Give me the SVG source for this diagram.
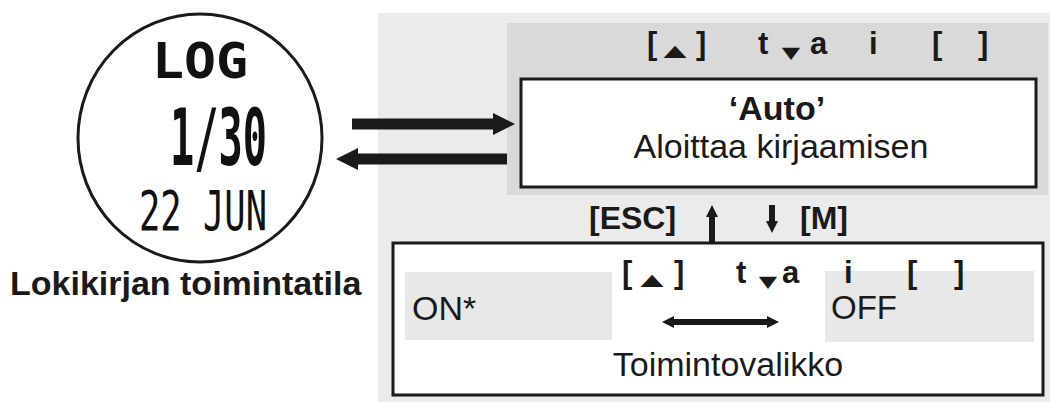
<svg xmlns="http://www.w3.org/2000/svg" width="1053" height="404" viewBox="0 0 1053 404">
<style>
.t{font-family:"Liberation Sans",Arial,sans-serif;fill:#1a1a1a}
.b{font-weight:bold}
.tri{font-family:"DejaVu Sans",sans-serif;fill:#1a1a1a}
.lcd{font-family:"DejaVu Sans Mono","Liberation Mono",monospace;fill:#111}
.box{fill:#fff;stroke:#1a1a1a;stroke-width:3}
.arr{stroke:#1a1a1a;fill:none}
</style>
<defs>
<marker id="ah" viewBox="0 0 10 10" refX="0" refY="5" markerUnits="strokeWidth" markerWidth="2" markerHeight="2" orient="auto-start-reverse">
<path d="M0,0 L10,5 L0,10 z" fill="#1a1a1a"/>
</marker>
<marker id="ahs" viewBox="0 0 10 10" refX="0" refY="5" markerUnits="strokeWidth" markerWidth="2" markerHeight="2.3" orient="auto-start-reverse">
<path d="M0,0 L10,5 L0,10 z" fill="#1a1a1a"/>
</marker>
</defs>
<rect width="1053" height="404" fill="#fff"/>
<rect id="panel" x="378" y="13" width="672" height="389" fill="#ebebeb"/>

<g id="watch">
<ellipse cx="200" cy="138" rx="122" ry="124" fill="#fff" stroke="#1a1a1a" stroke-width="3"/>
<text class="lcd" x="152" y="78" font-size="49" font-weight="bold" textLength="96" lengthAdjust="spacingAndGlyphs">LOG</text>
<text class="lcd" x="170" y="165" font-size="78" font-weight="bold" textLength="97" lengthAdjust="spacingAndGlyphs">1/30</text>
<text class="lcd" x="139" y="230" font-size="55" textLength="128" lengthAdjust="spacingAndGlyphs">22 JUN</text>
<text class="t b" x="10" y="295" font-size="34">Lokikirjan toimintatila</text>
</g>

<g id="auto-mode">
<rect x="507" y="23" width="541" height="172" fill="#d9d9d9"/>
<g class="t b" font-size="31">
<text x="647" y="54">[</text>
<text x="696" y="54">]</text>
<text x="758" y="54">t</text>
<text x="810" y="54">a</text>
<text x="869" y="54">i</text>
<text x="932" y="54">[</text>
<text x="978" y="54">]</text>
</g>
<text class="tri" font-size="30" text-anchor="middle" transform="translate(675,56) scale(1.0,0.53)">▲</text>
<text class="tri" font-size="30" text-anchor="middle" transform="translate(791,58) scale(0.8,0.53)">▼</text>
<rect class="box" x="521" y="79" width="515" height="108"/>
<text class="t b" x="777" y="120" font-size="34" text-anchor="middle">‘Auto’</text>
<text class="t" x="781" y="158" font-size="34" text-anchor="middle">Aloittaa kirjaamisen</text>
</g>

<g id="keys">
<text class="t b" x="589" y="229" font-size="32">[ESC]</text>
<text class="t b" x="800" y="229" font-size="32">[M]</text>
</g>

<g id="function-menu">
<rect class="box" x="393" y="243" width="650" height="152"/>
<rect x="405" y="272" width="207" height="68" fill="#e8e8e8"/>
<rect x="825" y="271" width="209" height="71" fill="#e8e8e8"/>
<g class="t b" font-size="31">
<text x="622" y="283">[</text>
<text x="674" y="283">]</text>
<text x="736" y="283">t</text>
<text x="782" y="283">a</text>
<text x="844" y="283">i</text>
<text x="907" y="283">[</text>
<text x="954" y="283">]</text>
</g>
<text class="tri" font-size="30" text-anchor="middle" transform="translate(652,285) scale(1.0,0.53)">▲</text>
<text class="tri" font-size="30" text-anchor="middle" transform="translate(768,287) scale(0.8,0.53)">▼</text>
<text class="t" x="412" y="320" font-size="34">ON*</text>
<text class="t" x="831" y="319" font-size="33">OFF</text>
<text class="t" x="728" y="376" font-size="34" text-anchor="middle">Toimintovalikko</text>
</g>

<g id="connectors">
<line class="arr" x1="352" y1="124" x2="493" y2="124" stroke-width="11" marker-end="url(#ah)"/>
<line class="arr" x1="507" y1="159" x2="358" y2="159" stroke-width="11" marker-end="url(#ah)"/>
<line class="arr" x1="712" y1="242" x2="712" y2="217" stroke-width="6" marker-end="url(#ahs)"/>
<line class="arr" x1="772" y1="205" x2="772" y2="221" stroke-width="6" marker-end="url(#ahs)"/>
<line class="arr" x1="674" y1="322" x2="767" y2="322" stroke-width="6" marker-start="url(#ahs)" marker-end="url(#ahs)"/>
</g>
</svg>
